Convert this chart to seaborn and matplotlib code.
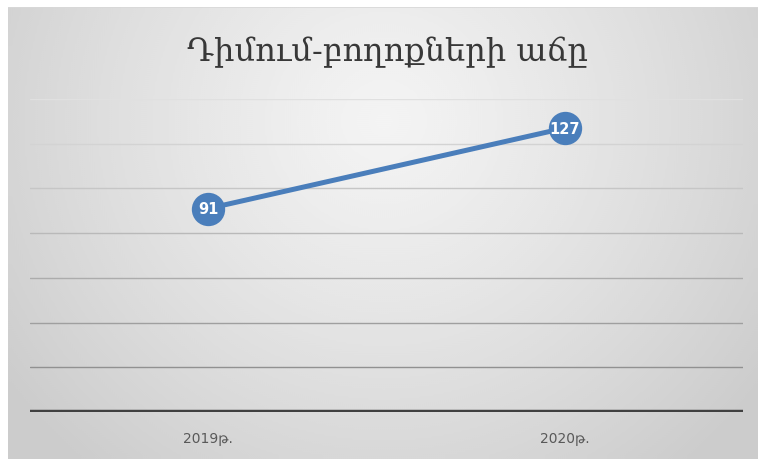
import numpy as np
import pandas as pd
import matplotlib
matplotlib.use("Agg")
import matplotlib.pyplot as plt
import seaborn as sns

title = "Դիմում-բողոքների աճը"
years = ["2019թ.", "2020թ."]
complaints = [91, 127]
y_max = 140
y_step = 20

sns.set_theme(style="white")
plt.rcParams["font.family"] = ["DejaVu Sans"]

df = pd.DataFrame({"year": years, "count": complaints})

fig = plt.figure(figsize=(7.58, 4.60), dpi=100)
fig.patch.set_facecolor("white")

# Chart panel background: soft radial gradient, lighter near the top centre
bg = fig.add_axes([8 / 758, 0, 750 / 758, 452 / 460])
bg.set_axis_off()
h, w = 226, 375
yy, xx = np.mgrid[0:h, 0:w]
cx, cy = w * 0.5, h * 0.25
r = np.sqrt(((xx - cx) / (w * 0.62)) ** 2 + ((yy - cy) / (h * 1.0)) ** 2)
r = np.clip(r, 0, 1)
light, dark = 0.955, 0.80
shade = light - (light - dark) * r ** 1.2
bg.imshow(shade, cmap="gray", vmin=0, vmax=1, aspect="auto",
          extent=[0, 1, 0, 1], interpolation="bicubic")
bg.plot([0, 1], [1, 1], color="#d8d8d8", lw=1.2, transform=bg.transAxes)

ax = fig.add_axes([30 / 758, 47 / 460, 713 / 758, 313 / 460])
ax.patch.set_alpha(0)
ax.set_xlim(-0.5, 1.5)
ax.set_ylim(0, y_max)

# Horizontal gridlines that deepen in tone toward the baseline
levels = np.arange(y_step, y_max + 1, y_step)
tones = np.linspace(0.57, 0.88, len(levels))
for lv, t in zip(levels, tones):
    ax.axhline(lv, color=str(t), lw=1.0, zorder=1)
ax.axhline(0, color="#404040", lw=3.2, zorder=2)

sns.lineplot(data=df, x="year", y="count", ax=ax, color="#4a7ebb", lw=3.6,
             marker="o", markersize=24, markeredgewidth=0, zorder=3,
             sort=False)

for i, v in enumerate(complaints):
    ax.text(i, v, str(v), ha="center", va="center", color="white",
            fontsize=10.5, fontweight="bold", zorder=4)

for s in ax.spines.values():
    s.set_visible(False)
ax.set_yticks([])
ax.set_xlabel("")
ax.set_ylabel("")
ax.tick_params(axis="x", length=0, pad=14, labelsize=10, labelcolor="#595959")

fig.text(387 / 758, 1 - 52 / 460, title, ha="center", va="center",
         fontsize=23, color="#383838", family=["DejaVu Serif", "DejaVu Sans"])

fig.savefig("out.png", dpi=100)
